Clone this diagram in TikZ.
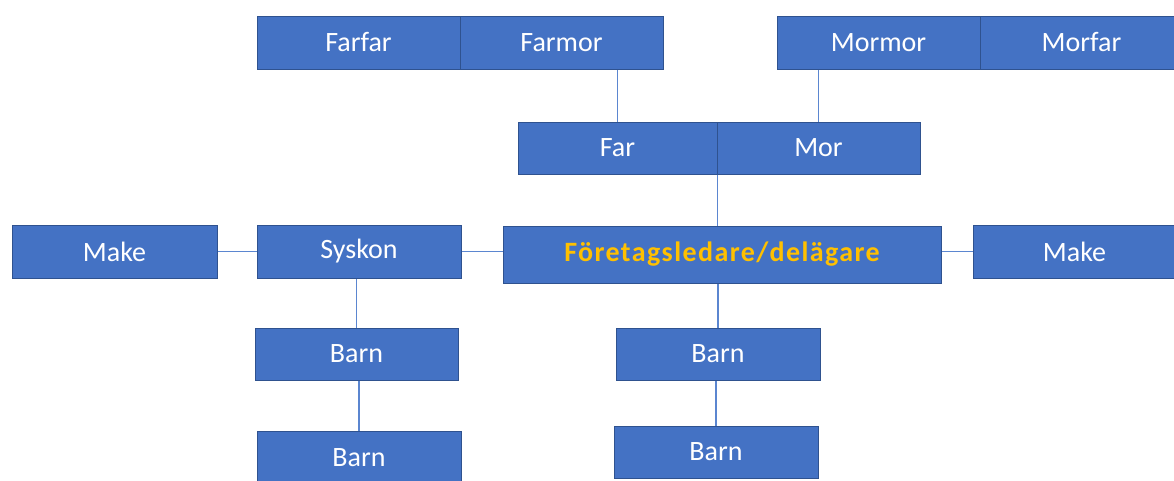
\documentclass[tikz,border=0pt]{standalone}
\usepackage{fontspec}
\setmainfont{Carlito}
\definecolor{boxblue}{HTML}{4472C4}
\definecolor{boxborder}{HTML}{2F528F}
\definecolor{linkblue}{HTML}{5B86D0}
\definecolor{gold}{HTML}{FFC000}
\tikzset{
  box/.style={draw=boxborder, fill=boxblue, line width=1pt, text=white, inner sep=0pt,
    minimum width=203pt, minimum height=53pt, font=\fontsize{28}{32}\selectfont},
  link/.style={draw=linkblue, line width=1.8pt}
}
\begin{document}
\begin{tikzpicture}[x=1pt,y=-1pt]
\useasboundingbox (0,0) rectangle (1174,480);
\node[box] (farfar) at (358.5,42.5) {Farfar};
\node[box] (farmor) at (561.5,42.5) {Farmor};
\node[box] (mormor) at (878.5,42.5) {Mormor};
\node[box] (morfar) at (1081.5,42.5) {Morfar};
\node[box, minimum width=199pt, minimum height=52pt] (far) at (617.5,148) {Far};
\node[box, minimum height=52pt] (mor) at (818.5,148) {Mor};
\node[box, minimum width=438pt, minimum height=57pt, text=gold,
  font=\fontsize{28}{32}\selectfont\bfseries\addfontfeatures{LetterSpace=5}] (ledare) at (722,254.5) {Företagsledare/delägare};
\node[box, minimum width=205pt] (makeL) at (114.5,251.5) {Make};
\node[box, minimum width=204pt] (syskon) at (359,251.5) {Syskon};
\node[box] (makeR) at (1074.5,251.5) {Make};
\node[box, minimum height=52pt] (barnS1) at (356.5,354) {Barn};
\node[box, minimum width=204pt] (barnS2) at (359,457.5) {Barn};
\node[box, minimum width=204pt, minimum height=52pt] (barnC1) at (718,354) {Barn};
\node[box, minimum width=204pt, minimum height=52pt] (barnC2) at (716,452) {Barn};
\draw[link] (far.north) -- (far.north |- farmor.south);
\draw[link] (mor.north) -- (mor.north |- mormor.south);
\draw[link] (far.south east) -- (far.south east |- ledare.north);
\draw[link] (barnC1.north) -- (barnC1.north |- ledare.south);
\draw[link] (barnC2.north) -- (barnC2.north |- barnC1.south);
\draw[link] (barnS1.north) -- (barnS1.north |- syskon.south);
\draw[link] (barnS2.north) -- (barnS2.north |- barnS1.south);
\draw[link] (makeL.east) -- (syskon.west);
\draw[link] (syskon.east) -- (syskon.east -| ledare.west);
\draw[link] (makeR.west) -- (makeR.west -| ledare.east);
\end{tikzpicture}
\end{document}
